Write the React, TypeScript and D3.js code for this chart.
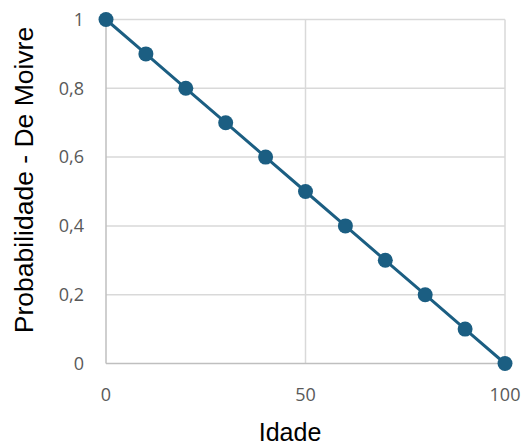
import React from "react";
import * as d3 from "d3";

const ages = [0, 10, 20, 30, 40, 50, 60, 70, 80, 90, 100];
const survival = [1, 0.9, 0.8, 0.7, 0.6, 0.5, 0.4, 0.3, 0.2, 0.1, 0];
const xTicks = [0, 50, 100];
const yTicks = [0, 0.2, 0.4, 0.6, 0.8, 1];

const W = 523;
const H = 446;
const left = 106;
const right = 505;
const top = 19.5;
const bottom = 363.5;

const fmt = (v: number) => String(+v.toFixed(1)).replace(".", ",");

export default function App() {
  const x = d3.scaleLinear().domain([0, 100]).range([left, right]);
  const y = d3.scaleLinear().domain([0, 1]).range([bottom, top]);
  const pts = ages.map((a, i) => [a, survival[i]] as [number, number]);
  const line = d3
    .line<[number, number]>()
    .x((d) => x(d[0]))
    .y((d) => y(d[1]));
  const color = "#1b5e82";
  const tickFont = "'Open Sans', 'Noto Sans', sans-serif";
  const titleFont = "'Liberation Sans', Arial, sans-serif";

  return (
    <svg
      width={W}
      height={H}
      style={{ position: "absolute", left: 0, top: 0, background: "#fff" }}
    >
      {/* grid */}
      {yTicks
        .filter((t) => t !== 0)
        .map((t) => (
          <line
            key={"gy" + t}
            x1={left}
            x2={right}
            y1={y(t)}
            y2={y(t)}
            stroke="#d9d9d9"
            strokeWidth={1.5}
          />
        ))}
      {xTicks
        .filter((t) => t !== 0)
        .map((t) => (
          <line
            key={"gx" + t}
            x1={x(t)}
            x2={x(t)}
            y1={top}
            y2={bottom}
            stroke="#d9d9d9"
            strokeWidth={1.5}
          />
        ))}
      {/* axes */}
      <line x1={left} x2={left} y1={top} y2={bottom} stroke="#bfbfbf" strokeWidth={1.5} />
      <line x1={left} x2={right} y1={bottom} y2={bottom} stroke="#bfbfbf" strokeWidth={1.5} />

      {/* tick labels */}
      {yTicks.map((t) => (
        <text
          key={"ty" + t}
          x={84}
          y={y(t)}
          dy="0.35em"
          textAnchor="end"
          fontFamily={tickFont}
          fontSize={18}
          fill="#595959"
        >
          {fmt(t)}
        </text>
      ))}
      {xTicks.map((t) => (
        <text
          key={"tx" + t}
          x={x(t)}
          y={395}
          dy="0.35em"
          textAnchor="middle"
          fontFamily={tickFont}
          fontSize={18}
          fill="#595959"
        >
          {t}
        </text>
      ))}

      {/* series */}
      <path d={line(pts) || ""} fill="none" stroke={color} strokeWidth={3} />
      {pts.map((p, i) => (
        <circle key={i} cx={x(p[0])} cy={y(p[1])} r={7.5} fill={color} />
      ))}

      {/* axis titles */}
      <text
        x={290}
        y={441}
        textAnchor="middle"
        fontFamily={titleFont}
        fontSize={25}
        fill="#000"
      >
        Idade
      </text>
      <text
        transform={`translate(33, 180) rotate(-90)`}
        textAnchor="middle"
        fontFamily={titleFont}
        fontSize={26.5}
        fill="#000"
      >
        Probabilidade - De Moivre
      </text>
    </svg>
  );
}
